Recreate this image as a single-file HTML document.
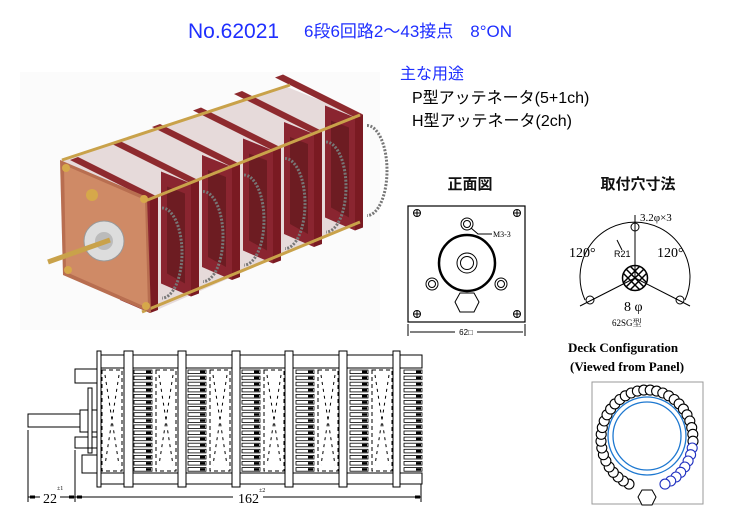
<!DOCTYPE html>
<html><head><meta charset="utf-8"><style>
html,body{margin:0;padding:0;background:#fff;width:730px;height:529px;overflow:hidden}
svg{display:block}
text{font-family:"Liberation Sans","Noto Sans CJK JP",sans-serif}
.s{font-family:"Liberation Serif","Noto Serif CJK SC",serif}
</style></head><body>
<svg id="g" width="730" height="529" viewBox="0 0 730 529" xmlns="http://www.w3.org/2000/svg">
<text x="188" y="38" font-size="21" fill="#1f2fff">No.62021</text>
<text x="304" y="37" font-size="17" fill="#1f2fff">6段6回路2～43接点　8°ON</text>
<text x="400" y="79" font-size="16" fill="#1f2fff">主な用途</text>
<text x="412" y="103" font-size="16" fill="#000">P型アッテネータ(5+1ch)</text>
<text x="412" y="126" font-size="16" fill="#000">H型アッテネータ(2ch)</text>

<!-- photo -->
<rect x="20" y="72" width="360" height="258" fill="#fbfbfb"/>
<polygon points="60,160 287,87 357,115 357,222 150,313 63,273" fill="#e6dada"/>
<g id="decks"></g>
<polygon points="60,160 147,197 151,313 63,275" fill="#b86e50"/>
<polygon points="64,165 145,200 148,308 66,272" fill="#cf8a66"/>
<circle cx="104" cy="241" r="20" fill="#ddd" stroke="#999"/>
<circle cx="104" cy="241" r="9" fill="#bbb"/>
<line x1="48" y1="262" x2="110" y2="240" stroke="#c9a24a" stroke-width="5"/>
<circle cx="92" cy="195" r="6" fill="#d6a84a"/>
<circle cx="66" cy="168" r="4" fill="#d6a84a"/><circle cx="144" cy="199" r="4" fill="#d6a84a"/>
<circle cx="68" cy="270" r="4" fill="#d6a84a"/><circle cx="146" cy="306" r="4" fill="#d6a84a"/>

<!-- front view -->
<text x="470" y="189" font-size="15" font-weight="bold" text-anchor="middle" fill="#111">正面図</text>
<rect x="408" y="206" width="117" height="116" fill="none" stroke="#000" stroke-width="1.2"/>
<g fill="none" stroke="#000" stroke-width="1">
<circle cx="467" cy="263" r="28" stroke-width="2.5"/>
<circle cx="467" cy="263" r="10"/><circle cx="467" cy="263" r="6.5"/>
<circle cx="467" cy="224" r="6"/><circle cx="467" cy="224" r="3.5"/>
<circle cx="432" cy="284" r="6"/><circle cx="432" cy="284" r="3.5"/>
<circle cx="501" cy="284" r="6"/><circle cx="501" cy="284" r="3.5"/>
<polygon points="460,293 474,293 479,302 474,312 460,312 455,302"/>
<path d="M471,228 L478,234 L492,234"/>
<line x1="410" y1="332" x2="523" y2="332"/><line x1="408" y1="324" x2="408" y2="336"/><line x1="525" y1="324" x2="525" y2="336"/>
</g>
<g id="screws"></g>
<text x="493" y="237" font-size="8" class="s">M3-3</text>
<rect x="455" y="327" width="22" height="10" fill="#fff"/>
<text x="466" y="335" font-size="8" text-anchor="middle">62□</text>

<!-- mounting -->
<text x="638" y="189" font-size="15" font-weight="bold" text-anchor="middle" fill="#111">取付穴寸法</text>
<g fill="none" stroke="#000" stroke-width="1">
<path d="M585,300 A55,55 0 1 1 685,300"/>
<line x1="635" y1="215" x2="635" y2="278"/>
<line x1="635" y1="278" x2="580" y2="306"/><line x1="635" y1="278" x2="690" y2="306"/>
<circle cx="635" cy="278" r="12.5" stroke-width="1.5"/>
<path d="M626,269 L644,287 M644,269 L626,287 M630,266 L647,283 M623,273 L640,290 M640,266 L623,283 M647,273 L630,290" stroke-width="1.5"/>
<circle cx="635" cy="227" r="4"/><circle cx="590" cy="300" r="4"/><circle cx="680" cy="300" r="4"/>
<line x1="617" y1="240" x2="622" y2="250"/>
</g>
<text x="640" y="221" font-size="11" class="s">3.2φ×3</text>
<text x="569" y="257" font-size="14" class="s">120°</text>
<text x="657" y="257" font-size="14" class="s">120°</text>
<text x="614" y="257" font-size="9">R21</text>
<text x="624" y="311" font-size="14" class="s">8 φ</text>
<text x="612" y="326" font-size="9" class="s">62SG型</text>

<!-- deck config -->
<text x="568" y="352" font-size="13" font-weight="bold" class="s">Deck Configuration</text>
<text x="570" y="371" font-size="13" font-weight="bold" class="s">(Viewed from Panel)</text>
<rect x="592" y="382" width="111" height="122" fill="#fff" stroke="#999"/>
<circle cx="647" cy="436" r="39" fill="none" stroke="#1e78d0" stroke-width="1.3"/>
<circle cx="647" cy="436" r="34" fill="none" stroke="#1e78d0" stroke-width="1.3"/>
<g id="ring"></g>
<polygon points="642,490 652,490 656,497 652,505 642,505 638,497" fill="#fff" stroke="#000"/>

<!-- side view -->
<g id="side"></g>
</svg>
<script>
var NS="http://www.w3.org/2000/svg";
function el(p,t,a){var e=document.createElementNS(NS,t);for(var k in a)e.setAttribute(k,a[k]);p.appendChild(e);return e;}
// photo decks
var d=document.getElementById("decks");
for(var i=5;i>=0;i--){var x=150+i*41,y=200-i*16.5;
 el(d,"polygon",{points:x+","+y+" "+(x-30)+","+(y-12)+" "+(x-30)+","+(y+100)+" "+x+","+(y+113),fill:"#8a2530"});
 el(d,"polygon",{points:(x-6)+","+(y+10)+" "+(x-24)+","+(y+3)+" "+(x-24)+","+(y+90)+" "+(x-6)+","+(y+100),fill:"#6d1c22"});
 el(d,"path",{d:"M"+(x+12)+","+(y+8)+" A20,45 0 0 1 "+(x+12)+","+(y+98),fill:"none",stroke:"#777","stroke-width":3,"stroke-dasharray":"2 1.5"});
 el(d,"polygon",{points:x+","+y+" "+(x+8)+","+(y-3)+" "+(x+8)+","+(y+110)+" "+x+","+(y+113),fill:"#7a1a22"});
 el(d,"polygon",{points:(x-80)+","+(y-40)+" "+(x-72)+","+(y-43)+" "+(x+8)+","+(y-3)+" "+x+","+y,fill:"#8e2a2e"});
}
var d2=el(d,"g",{});
el(d2,"line",{x1:140,y1:203,x2:360,y2:115,stroke:"#c9a24a","stroke-width":3});
el(d2,"line",{x1:142,y1:312,x2:360,y2:222,stroke:"#c9a24a","stroke-width":3});
el(d2,"line",{x1:62,y1:160,x2:290,y2:85,stroke:"#c9a24a","stroke-width":3});
// screws
var s=document.getElementById("screws");
[[417,213],[517,213],[417,314],[517,314]].forEach(function(p){
 el(s,"circle",{cx:p[0],cy:p[1],r:3.5,fill:"none",stroke:"#000"});
 el(s,"path",{d:"M"+(p[0]-3)+","+p[1]+"h6M"+p[0]+","+(p[1]-3)+"v6",stroke:"#000"});});
// ring
var r=document.getElementById("ring");
for(var i=0;i<40;i++){var a=(113+i*(314/39))*Math.PI/180;
 var cx=647+46*Math.cos(a),cy=439+49*Math.sin(a);
 var blue=i>=32;
 el(r,"circle",{cx:cx.toFixed(1),cy:cy.toFixed(1),r:5,fill:"#fff",stroke:blue?"#2030c0":"#000","stroke-width":1.1});}
// side view
var sv=document.getElementById("side");
function R(x,y,w,h,f){el(sv,"rect",{x:x,y:y,width:w,height:h,fill:f||"#fff",stroke:"#000","stroke-width":1});}
R(97,355,325,13);R(97,473,325,11);
for(var k=0;k<6;k++){var x0=101+k*54;
 el(sv,"rect",{x:x0+1,y:370,width:20,height:101,fill:"none",stroke:"#000","stroke-dasharray":"4 3"});
 el(sv,"path",{d:"M"+(x0+4)+",375 L"+(x0+18)+",465 M"+(x0+18)+",375 L"+(x0+4)+",465",stroke:"#000","stroke-dasharray":"3 4",fill:"none"});
 var cxs=x0+33;
 for(var j=0;j<17;j++){var yy=370+j*6.1;el(sv,"rect",{x:cxs,y:yy,width:18,height:3.6,fill:"#fff",stroke:"#000","stroke-width":0.8});el(sv,"rect",{x:cxs+12,y:yy+0.6,width:5,height:2.4,fill:"#000"});}
}
[[97,101],[124,133],[178,186],[232,240],[285,293],[339,347],[393,400]].forEach(function(p){R(p[0],351,p[1]-p[0],136);});
R(75,369,22,14);R(75,437,22,11);R(80,410,17,22);R(88,388,4,60);R(82,455,15,18);R(28,414,52,13);R(88,448,4,5);
el(sv,"line",{x1:28,y1:430,x2:28,y2:502,stroke:"#000"});el(sv,"line",{x1:75,y1:450,x2:75,y2:502,stroke:"#000"});el(sv,"line",{x1:421,y1:484,x2:421,y2:502,stroke:"#000"});
el(sv,"line",{x1:28,y1:497,x2:421,y2:497,stroke:"#000"});
[[30,497],[69,497],[77,497],[415,497]].forEach(function(p){el(sv,"rect",{x:p[0],y:p[1]-1.5,width:5,height:3,fill:"#000"});});
el(sv,"rect",{x:40,y:489,width:20,height:14,fill:"#fff"});el(sv,"rect",{x:233,y:489,width:30,height:14,fill:"#fff"});
var t=el(sv,"text",{x:43,y:503,"font-size":14,"class":"s"});t.textContent="22";
t=el(sv,"text",{x:57,y:490,"font-size":6,"class":"s"});t.textContent="±1";
t=el(sv,"text",{x:238,y:503,"font-size":14,"class":"s"});t.textContent="162";
t=el(sv,"text",{x:259,y:492,"font-size":6,"class":"s"});t.textContent="±2";
</script>
</body></html>
